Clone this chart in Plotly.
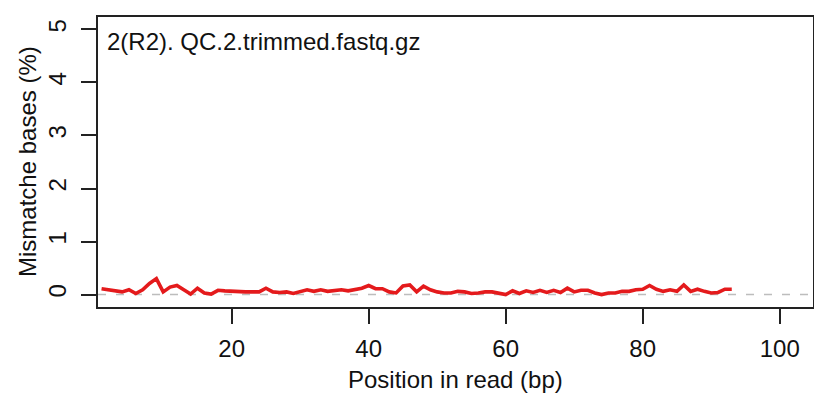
import plotly.graph_objects as go

# Per-position mismatch rate for read 2 after trimming
positions = list(range(1, 94))
mismatch_pct = [
    0.11, 0.09, 0.07, 0.05, 0.09, 0.02, 0.09, 0.21, 0.30, 0.05,
    0.14, 0.17, 0.09, 0.01, 0.12, 0.03, 0.01, 0.08, 0.07, 0.06,
    0.05, 0.05, 0.05, 0.05, 0.12, 0.05, 0.04, 0.05, 0.02, 0.06,
    0.09, 0.06, 0.09, 0.06, 0.08, 0.09, 0.07, 0.09, 0.12, 0.17,
    0.11, 0.11, 0.05, 0.03, 0.16, 0.18, 0.05, 0.16, 0.09, 0.05,
    0.03, 0.03, 0.06, 0.05, 0.02, 0.03, 0.05, 0.05, 0.02, 0.00,
    0.07, 0.02, 0.07, 0.04, 0.08, 0.04, 0.08, 0.04, 0.12, 0.05,
    0.08, 0.08, 0.03, 0.00, 0.03, 0.03, 0.06, 0.06, 0.09, 0.10,
    0.17, 0.10, 0.06, 0.09, 0.06, 0.18, 0.06, 0.10, 0.06, 0.03,
    0.04, 0.10, 0.10,
]
x_ticks = [20, 40, 60, 80, 100]
y_ticks = [0, 1, 2, 3, 4, 5]

FONT = "Liberation Sans, Arial, sans-serif"
FS = 24

fig = go.Figure()
fig.add_trace(go.Scatter(
    x=positions, y=mismatch_pct, mode="lines",
    line=dict(color="#e41a1c", width=3.6),
    hoverinfo="x+y", showlegend=False,
))

# zero reference line
fig.add_shape(type="line", xref="paper", x0=0, x1=1, yref="y", y0=0, y1=0,
              line=dict(color="#bdbdbd", width=1.5, dash="8px,10px"), layer="below")

fig.update_layout(
    width=814, height=394,
    margin=dict(l=98, r=1, t=17, b=87),
    paper_bgcolor="white", plot_bgcolor="white",
    font=dict(family=FONT, size=FS, color="#111"),
    xaxis=dict(
        range=[0.48, 104.86], tickvals=x_ticks, ticktext=[str(v) for v in x_ticks],
        showgrid=False, zeroline=False, showline=True, mirror=True,
        linecolor="#222", linewidth=1.5,
        ticks="outside", ticklen=15, tickwidth=1.5, tickcolor="#222",
        ticklabelstandoff=4, automargin=False,
        tickfont=dict(family=FONT, size=FS, color="#111"),
    ),
    yaxis=dict(
        range=[-0.235, 5.235], tickvals=y_ticks, ticktext=[str(v) for v in y_ticks],
        showgrid=False, zeroline=False, showline=True, mirror=True,
        linecolor="#222", linewidth=1.5,
        ticks="outside", ticklen=15, tickwidth=1.5, tickcolor="#222",
        tickangle=-90, ticklabelstandoff=6, automargin=False,
        tickfont=dict(family=FONT, size=FS, color="#111"),
    ),
    annotations=[
        dict(text="2(R2). QC.2.trimmed.fastq.gz", xref="paper", yref="paper",
             x=0, y=1, xanchor="left", yanchor="top", xshift=7, yshift=-9,
             showarrow=False, font=dict(family=FONT, size=FS, color="#111")),
        dict(text="Position in read (bp)", xref="paper", yref="paper",
             x=0.5, y=0, xanchor="center", yanchor="middle", yshift=-72,
             showarrow=False, font=dict(family=FONT, size=FS, color="#111")),
        dict(text="Mismatche bases (%)", xref="paper", yref="paper",
             x=0, y=0.5, xanchor="center", yanchor="middle", xshift=-71,
             textangle=-90, showarrow=False,
             font=dict(family=FONT, size=FS, color="#111")),
    ],
)

fig.write_html("out.html")
